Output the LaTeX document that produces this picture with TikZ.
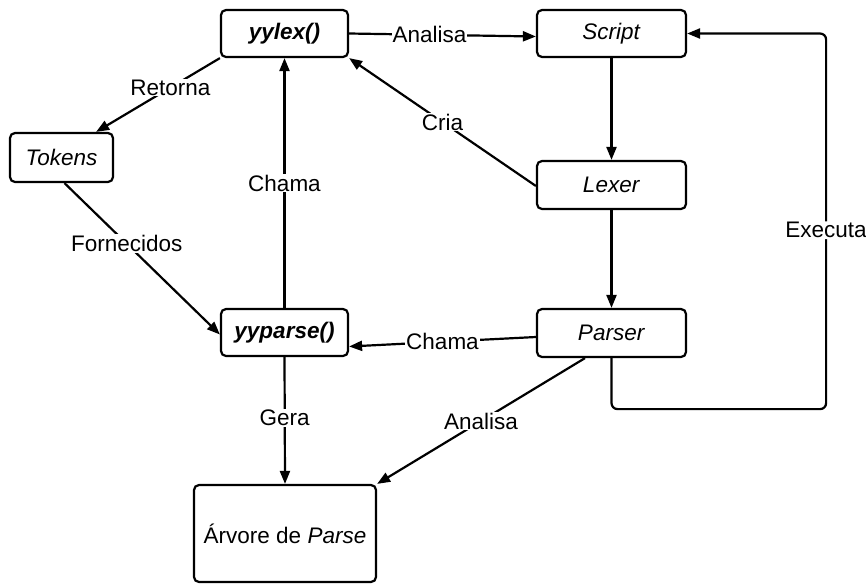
\documentclass[tikz,border=0pt]{standalone}
\usepackage{fontspec}
\setmainfont{Liberation Sans}
\usetikzlibrary{arrows.meta,calc}
\begin{document}
\begin{tikzpicture}[x=1pt,y=-1pt,
  box/.style={draw,line width=2.2pt,rounded corners=5pt,fill=white,inner sep=0pt,font=\fontsize{22.5}{26}\selectfont},
  conn/.style={line width=2.2pt,-{Triangle[length=13pt,width=10pt]}},
  lbl/.style={fill=white,inner sep=1pt,font=\fontsize{22.5}{26}\selectfont}]
\useasboundingbox (0,0) rectangle (866,584);
\node[box,minimum width=127pt,minimum height=47pt] (yylex) at (284.5,33.5) {\textbf{\textit{yylex()}}};
\node[box,minimum width=149pt,minimum height=47pt] (script) at (611.5,33.5) {\textit{Script}};
\node[box,minimum width=103pt,minimum height=49pt] (tokens) at (61.5,157.5) {\textit{Tokens}};
\node[box,minimum width=149pt,minimum height=48pt] (lexer) at (611.5,185) {\textit{Lexer}};
\node[box,minimum width=127pt,minimum height=47pt] (yyparse) at (284.5,332.5) {\textbf{\textit{yyparse()}}};
\node[box,minimum width=149pt,minimum height=48pt] (parser) at (611.5,333) {\textit{Parser}};
\node[box,minimum width=182pt,minimum height=97pt] (arvore) at (285,533.5) {Árvore de \textit{Parse}};

\draw[conn] (yylex.east) -- node[lbl,pos=0.43] {Analisa} ([yshift=-3pt]script.west);
\draw[conn] (yylex.south west) -- node[lbl,pos=0.4] {Retorna} ([xshift=-18pt]tokens.north east);
\draw[conn] ([xshift=3pt]tokens.south) -- node[lbl,pos=0.4] {Fornecidos} ([yshift=-2pt]yyparse.west);
\draw[conn] (yyparse.north) -- node[lbl,pos=0.5] {Chama} (yylex.south);
\draw[conn] ([yshift=-1pt]lexer.west) -- node[lbl,pos=0.5] {Cria} (yylex.south east);
\draw[conn] (script.south) -- (lexer.north);
\draw[conn] (lexer.south) -- (parser.north);
\draw[conn] ([yshift=-4pt]parser.west) -- node[lbl,pos=0.5] {Chama} ([yshift=-14pt]yyparse.east);
\draw[conn,rounded corners=6pt] (parser.south) -- ++(0,51) -| node[lbl,pos=0.738] {Executa} ($(script.east)+(139,0)$) -- (script.east);
\draw[conn] (yyparse.south) -- node[lbl,pos=0.48] {Gera} (arvore.north);
\draw[conn] ([xshift=-26.5pt]parser.south) -- node[lbl,pos=0.5] {Analisa} (arvore.north east);
\end{tikzpicture}
\end{document}
